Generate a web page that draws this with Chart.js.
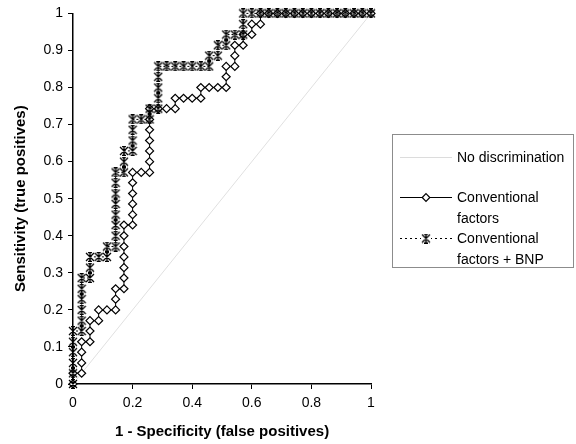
<!DOCTYPE html>
<html>
<head>
<meta charset="utf-8">
<script src="https://cdn.jsdelivr.net/npm/chart.js@4.4.1/dist/chart.umd.min.js"></script>
<style>
  body { margin: 0; background: #fff; }
  #wrap { width: 576px; height: 444px; }
</style>
</head>
<body>
<div id="wrap"><canvas id="roc" width="576" height="444"></canvas></div>
<script>
// ROC points: [1 - specificity, sensitivity]
const diagonalPoints = [[0, 0], [1, 1]];

const convPoints = [
    [0, 0], [0, .029], [.029, .029], [.029, .057], [.029, .086], [.029, .114], [.057, .114], [.057, .143],
    [.057, .171], [.086, .171], [.086, .2], [.114, .2], [.143, .2], [.143, .229], [.143, .257], [.171, .257],
    [.171, .286], [.171, .314], [.171, .343], [.171, .371], [.171, .4], [.171, .429], [.2, .429], [.2, .457],
    [.2, .486], [.2, .514], [.2, .543], [.2, .571], [.229, .571], [.257, .571], [.257, .6], [.257, .629],
    [.257, .657], [.257, .686], [.257, .714], [.257, .743], [.286, .743], [.314, .743], [.343, .743], [.343, .771],
    [.371, .771], [.4, .771], [.429, .771], [.429, .8], [.457, .8], [.486, .8], [.514, .8], [.514, .829],
    [.514, .857], [.543, .857], [.543, .886], [.543, .914], [.571, .914], [.571, .943], [.6, .943], [.6, .971],
    [.629, .971], [.629, 1], [.657, 1], [.686, 1], [.714, 1], [.743, 1], [.771, 1], [.8, 1],
    [.829, 1], [.857, 1], [.886, 1], [.914, 1], [.943, 1], [.971, 1], [1, 1]
];

const bnpPoints = [
    [0, 0], [0, .029], [0, .057], [0, .086], [0, .114], [0, .143], [.029, .143], [.029, .171],
    [.029, .2], [.029, .229], [.029, .257], [.029, .286], [.057, .286], [.057, .314], [.057, .343], [.086, .343],
    [.114, .343], [.114, .371], [.143, .371], [.143, .4], [.143, .429], [.143, .457], [.143, .486], [.143, .514],
    [.143, .543], [.143, .571], [.171, .571], [.171, .6], [.171, .629], [.2, .629], [.2, .657], [.2, .686],
    [.2, .714], [.229, .714], [.257, .714], [.257, .743], [.286, .743], [.286, .771], [.286, .8], [.286, .829],
    [.286, .857], [.314, .857], [.343, .857], [.371, .857], [.4, .857], [.429, .857], [.457, .857], [.457, .886],
    [.486, .886], [.486, .914], [.514, .914], [.514, .943], [.543, .943], [.571, .943], [.571, .971], [.571, 1],
    [.6, 1], [.629, 1], [.657, 1], [.686, 1], [.714, 1], [.743, 1], [.771, 1], [.8, 1],
    [.829, 1], [.857, 1], [.886, 1], [.914, 1], [.943, 1], [.971, 1], [1, 1]
];

const xTickLabels = ['0', '0.2', '0.4', '0.6', '0.8', '1'];
const yTickLabels = ['0', '0.1', '0.2', '0.3', '0.4', '0.5', '0.6', '0.7', '0.8', '0.9', '1'];

const seriesNames = ['No discrimination', ['Conventional', 'factors'], ['Conventional', 'factors + BNP']];
const xTitle = '1 - Specificity (false positives)';
const yTitle = 'Sensitivity (true positives)';

const FONT = "'Liberation Sans', Arial, sans-serif";

// excel-ish star marker: an X with a vertical bar through it
const makeStar = () => {
    const c = document.createElement('canvas');
    c.width = 10;
    c.height = 10;
    const g = c.getContext('2d');
    g.strokeStyle = '#000';
    g.lineWidth = 1.3;
    g.beginPath();
    g.moveTo(1, 1); g.lineTo(9, 9);
    g.moveTo(9, 1); g.lineTo(1, 9);
    g.moveTo(5, 0.5); g.lineTo(5, 9.5);
    g.moveTo(3, 0.7); g.lineTo(7, 0.7);
    g.moveTo(3, 9.3); g.lineTo(7, 9.3);
    g.stroke();
    return c;
};
const starMark = makeStar();

const toXY = pts => pts.map(p => ({ x: p[0], y: p[1] }));

const drawDiamond = (ctx, x, y, r) => {
    ctx.beginPath();
    ctx.moveTo(x, y - r);
    ctx.lineTo(x + r, y);
    ctx.lineTo(x, y + r);
    ctx.lineTo(x - r, y);
    ctx.closePath();
    ctx.fillStyle = '#fff';
    ctx.fill();
    ctx.strokeStyle = '#000';
    ctx.lineWidth = 1.2;
    ctx.stroke();
};

// hand drawn legend box on the right, like the excel original
const boxLegend = {
    id: 'boxLegend',
    afterDraw(chart) {
        const ctx = chart.ctx;
        ctx.save();
        ctx.strokeStyle = '#8c8c8c';
        ctx.lineWidth = 1;
        ctx.strokeRect(392.5, 134.5, 181, 133);

        ctx.font = '14px ' + FONT;
        ctx.fillStyle = '#000';
        ctx.textBaseline = 'middle';

        // no discrimination
        ctx.strokeStyle = '#dcdcdc';
        ctx.beginPath();
        ctx.moveTo(400, 157.5); ctx.lineTo(452, 157.5);
        ctx.stroke();
        ctx.fillText(seriesNames[0], 457, 158);

        // conventional factors
        ctx.strokeStyle = '#000';
        ctx.lineWidth = 1.2;
        ctx.beginPath();
        ctx.moveTo(400, 197.5); ctx.lineTo(452, 197.5);
        ctx.stroke();
        drawDiamond(ctx, 426, 197.5, 3.8);
        ctx.fillStyle = '#000';
        ctx.fillText(seriesNames[1][0], 457, 198);
        ctx.fillText(seriesNames[1][1], 457, 219);

        // conventional factors + BNP
        ctx.setLineDash([2, 3]);
        ctx.beginPath();
        ctx.moveTo(400, 238.5); ctx.lineTo(452, 238.5);
        ctx.stroke();
        ctx.setLineDash([]);
        ctx.fillStyle = '#fff';
        ctx.fillRect(421, 233.5, 10, 10);
        ctx.drawImage(starMark, 421, 233.5);
        ctx.fillStyle = '#000';
        ctx.fillText(seriesNames[2][0], 457, 239);
        ctx.fillText(seriesNames[2][1], 457, 260);
        ctx.restore();
    }
};

new Chart(document.getElementById('roc'), {
    type: 'scatter',
    data: {
        datasets: [{
            label: seriesNames[0],
            data: toXY(diagonalPoints),
            showLine: true,
            borderColor: '#e0e0e0',
            borderWidth: 1,
            pointRadius: 0,
            order: 2
        }, {
            label: seriesNames[1].join(' '),
            data: toXY(convPoints),
            showLine: true,
            borderColor: '#000',
            borderWidth: 1,
            pointStyle: 'rectRot',
            pointRadius: 4,
            pointBorderWidth: 1.2,
            pointBackgroundColor: '#fff',
            pointBorderColor: '#000',
            clip: false,
            order: 1
        }, {
            label: seriesNames[2].join(' '),
            data: toXY(bnpPoints),
            showLine: true,
            borderColor: '#000',
            borderWidth: 1,
            borderDash: [2, 2],
            pointStyle: starMark,
            clip: false,
            order: 0
        }]
    },
    options: {
        responsive: false,
        animation: false,
        layout: { padding: { left: 0, right: 205, top: 13, bottom: 0 } },
        plugins: {
            legend: { display: false },
            tooltip: { enabled: false }
        },
        scales: {
            x: {
                type: 'linear',
                min: 0,
                max: 1,
                afterFit: scale => { scale.height = 60; },
                ticks: {
                    stepSize: 0.2,
                    color: '#000',
                    padding: 6,
                    font: { family: FONT, size: 14 },
                    callback: (value, index) => xTickLabels[index]
                },
                grid: { drawOnChartArea: false, drawTicks: true, tickLength: 5, color: '#000' },
                border: { color: '#000', width: 1.5 },
                title: {
                    display: true,
                    text: xTitle,
                    color: '#000',
                    font: { family: FONT, size: 15, weight: 'bold' },
                    padding: { top: 0, bottom: 3 }
                }
            },
            y: {
                type: 'linear',
                min: 0,
                max: 1,
                afterFit: scale => { scale.width = 73; },
                ticks: {
                    stepSize: 0.1,
                    color: '#000',
                    padding: 5,
                    font: { family: FONT, size: 14 },
                    callback: (value, index) => yTickLabels[index]
                },
                grid: { drawOnChartArea: false, drawTicks: true, tickLength: 5, color: '#000' },
                border: { color: '#000', width: 1.5 },
                title: {
                    display: true,
                    text: yTitle,
                    color: '#000',
                    font: { family: FONT, size: 15, weight: 'bold' },
                    padding: { top: 12, bottom: 0 }
                }
            }
        }
    },
    plugins: [boxLegend]
});
</script>
</body>
</html>
